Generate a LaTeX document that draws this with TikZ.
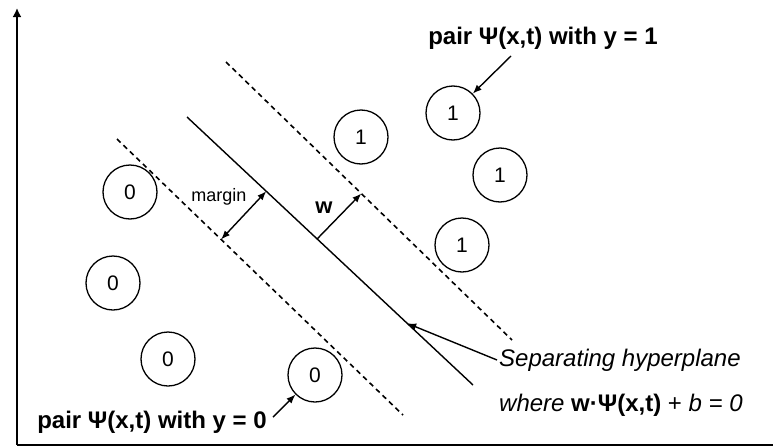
\documentclass[tikz,border=0pt]{standalone}
\usepackage{fontspec}
\setmainfont{Liberation Sans}
\usetikzlibrary{arrows.meta,positioning,calc}

\begin{document}
\begin{tikzpicture}[
  x=1pt, y=-1pt,
  sample/.style={draw, circle, line width=1.3pt, minimum size=54pt, inner sep=0pt, font=\fontsize{21}{21}\selectfont},
  pairlbl/.style={font=\fontsize{24}{28}\selectfont\bfseries, inner sep=1pt},
  planelbl/.style={font=\fontsize{24}{28}\selectfont, inner sep=2pt, anchor=west},
  bound/.style={line width=1.6pt, dash pattern=on 5pt off 4pt},
  plane/.style={line width=1.4pt},
  arrow/.style={-{Latex[length=9pt,width=7pt]}, line width=1.4pt},
  axis/.style={line width=2.6pt}
]
\useasboundingbox (0,0) rectangle (773,447);

% axes
\coordinate (origin) at (17,445);
\coordinate (ytop) at (17,8);
\coordinate (xend) at (773,445);
\draw[axis, -{Latex[length=9pt,width=9pt]}] (origin) -- (ytop);
\draw[axis] (origin) -- (xend);

% hyperplane and margins
\coordinate (h1) at (187,117);
\coordinate (h2) at (473,385);
\coordinate (u1) at (226,62);
\coordinate (u2) at (512,340);
\coordinate (l1) at (117,139);
\coordinate (l2) at (403,415);
\draw[plane] (h1) -- (h2);
\draw[bound] (u1) -- (u2);
\draw[bound] (l1) -- (l2);

% samples y = 0
\node[sample] (n1) at (130,192) {0};
\node[sample] (n2) at (113,283) {0};
\node[sample] (n3) at (168,359) {0};
\node[sample] (n4) at (315,375) {0};
% samples y = 1
\node[sample] (p1) at (361,137) {1};
\node[sample] (p2) at (453,113) {1};
\node[sample] (p3) at (500,175) {1};
\node[sample] (p4) at (462,245) {1};

% margin and normal vector
\coordinate (m1) at ($(l1)!0.364!(l2)$);
\coordinate (m2) at ($(h1)!(m1)!(h2)$);
\draw[arrow, {Latex[length=9pt,width=7pt]}-{Latex[length=9pt,width=7pt]}] (m1) -- (m2);
\node[font=\fontsize{18}{20}\selectfont] (marginlbl) at (219,197) {margin};
\coordinate (w1) at ($(h1)!0.455!(h2)$);
\coordinate (w2) at ($(u1)!(w1)!(u2)$);
\draw[arrow] (w1) -- (w2);
\node[font=\fontsize{22}{24}\selectfont\bfseries] (wlbl) at (324,208) {w};

% labels
\node[pairlbl] (toplbl) at (543,38) {pair Ψ(x,t) with y = 1};
\coordinate (topstart) at (511,56);
\draw[arrow] (topstart) -- (p2);
\node[pairlbl] (botlbl) at (152,422) {pair Ψ(x,t) with y = 0};
\coordinate (botstart) at (273,417);
\draw[arrow] (botstart) -- (n4);
\node[planelbl] (seplbl) at (497,360) {\itshape Separating hyperplane};
\node[planelbl] (wherelbl) at (497,405) {\textit{where} \textbf{w·Ψ(x,t)} + \textit{b = 0}};
\coordinate (htip) at ($(h1)!0.77!(h2)$);
\draw[arrow] (seplbl.west) -- (htip);
\end{tikzpicture}
\end{document}
